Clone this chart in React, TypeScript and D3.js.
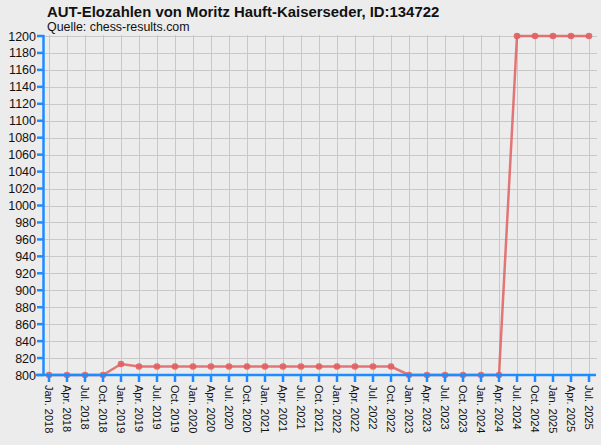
import React, { useEffect, useRef } from 'react';
import * as d3 from 'd3';

const title = 'AUT-Elozahlen von Moritz Hauft-Kaiserseder, ID:134722';
const subtitle = 'Quelle: chess-results.com';

const periods = [
    'Jan. 2018', 'Apr. 2018', 'Jul. 2018', 'Oct. 2018',
    'Jan. 2019', 'Apr. 2019', 'Jul. 2019', 'Oct. 2019',
    'Jan. 2020', 'Apr. 2020', 'Jul. 2020', 'Oct. 2020',
    'Jan. 2021', 'Apr. 2021', 'Jul. 2021', 'Oct. 2021',
    'Jan. 2022', 'Apr. 2022', 'Jul. 2022', 'Oct. 2022',
    'Jan. 2023', 'Apr. 2023', 'Jul. 2023', 'Oct. 2023',
    'Jan. 2024', 'Apr. 2024', 'Jul. 2024', 'Oct. 2024',
    'Jan. 2025', 'Apr. 2025', 'Jul. 2025',
];

const elo = [
    800, 800, 800, 800,
    813, 810, 810, 810,
    810, 810, 810, 810,
    810, 810, 810, 810,
    810, 810, 810, 810,
    800, 800, 800, 800,
    800, 800, 1200, 1200,
    1200, 1200, 1200,
];

const yTicks = d3.range(800, 1201, 20);

const W = 601;
const H = 445;

export default function App() {
    const svgRef = useRef<SVGSVGElement>(null);

    useEffect(() => {
        if (!svgRef.current) return;
        const svg = d3.select(svgRef.current);
        svg.selectAll('*').remove();

        const left = 44;
        const right = 596;
        const top = 36;
        const bottom = 375;
        const font = 'Liberation Sans, Arial, sans-serif';

        const x = d3.scalePoint<string>()
            .domain(periods)
            .range([49, 589]);
        const y = d3.scaleLinear()
            .domain([800, 1200])
            .range([bottom, top]);

        svg.append('rect')
            .attr('width', W).attr('height', H)
            .attr('fill', '#ececec');

        // grid
        const grid = svg.append('g').attr('stroke', '#c8c8c8').attr('stroke-width', 1);
        grid.selectAll('line.h')
            .data(yTicks.slice(1))
            .enter().append('line')
            .attr('x1', left).attr('x2', right + 1)
            .attr('y1', d => Math.round(y(d)) + 0.5)
            .attr('y2', d => Math.round(y(d)) + 0.5);
        grid.selectAll('line.v')
            .data(periods)
            .enter().append('line')
            .attr('x1', d => Math.round(x(d)!) + 0.5)
            .attr('x2', d => Math.round(x(d)!) + 0.5)
            .attr('y1', top - 1).attr('y2', bottom);

        // line + points
        const pts = periods.map((p, i) => [x(p)!, y(elo[i])] as [number, number]);
        svg.append('path')
            .attr('d', d3.line()(pts))
            .attr('fill', 'none')
            .attr('stroke', '#e06060')
            .attr('stroke-opacity', 0.85)
            .attr('stroke-width', 2.5);
        svg.selectAll('circle.pt')
            .data(pts)
            .enter().append('circle')
            .attr('cx', d => d[0]).attr('cy', d => d[1])
            .attr('r', 3.3)
            .attr('fill', '#e06060')
            .attr('fill-opacity', 0.9);

        // y axis
        const axisColor = '#1e8cff';
        svg.append('line')
            .attr('x1', left - 0.5).attr('x2', left - 0.5)
            .attr('y1', top - 1).attr('y2', bottom + 1)
            .attr('stroke', axisColor).attr('stroke-width', 2.5);
        const yg = svg.append('g');
        yg.selectAll('line')
            .data(yTicks)
            .enter().append('line')
            .attr('x1', left - 7).attr('x2', left)
            .attr('y1', d => y(d)).attr('y2', d => y(d))
            .attr('stroke', axisColor).attr('stroke-width', 2.5);
        yg.selectAll('text')
            .data(yTicks)
            .enter().append('text')
            .attr('x', left - 8)
            .attr('y', d => y(d) + 4.5)
            .attr('text-anchor', 'end')
            .attr('font-family', font)
            .attr('font-size', 12.5)
            .attr('fill', '#111')
            .text(d => d);

        // x axis
        svg.append('line')
            .attr('x1', 36).attr('x2', right)
            .attr('y1', bottom).attr('y2', bottom)
            .attr('stroke', axisColor).attr('stroke-width', 2.5);
        const xg = svg.append('g');
        xg.selectAll('line')
            .data(periods)
            .enter().append('line')
            .attr('x1', d => x(d)!).attr('x2', d => x(d)!)
            .attr('y1', bottom).attr('y2', bottom + 7)
            .attr('stroke', axisColor).attr('stroke-width', 2.5);
        xg.selectAll('text')
            .data(periods)
            .enter().append('text')
            .attr('transform', d => `translate(${x(d)! - 4},${bottom + 10}) rotate(90)`)
            .attr('font-family', font)
            .attr('font-size', 11)
            .attr('fill', '#111')
            .text(d => d);

        // titles
        svg.append('text')
            .attr('x', 47).attr('y', 17)
            .attr('font-family', font)
            .attr('font-size', 14.9)
            .attr('font-weight', 'bold')
            .attr('fill', '#111')
            .text(title);
        svg.append('text')
            .attr('x', 47).attr('y', 31)
            .attr('font-family', font)
            .attr('font-size', 12.4)
            .attr('fill', '#111')
            .text(subtitle);
    }, []);

    return (
        <div style={{ position: 'fixed', left: 0, top: 0 }}>
            <svg ref={svgRef} width={W} height={H} style={{ display: 'block' }}></svg>
        </div>
    );
}
